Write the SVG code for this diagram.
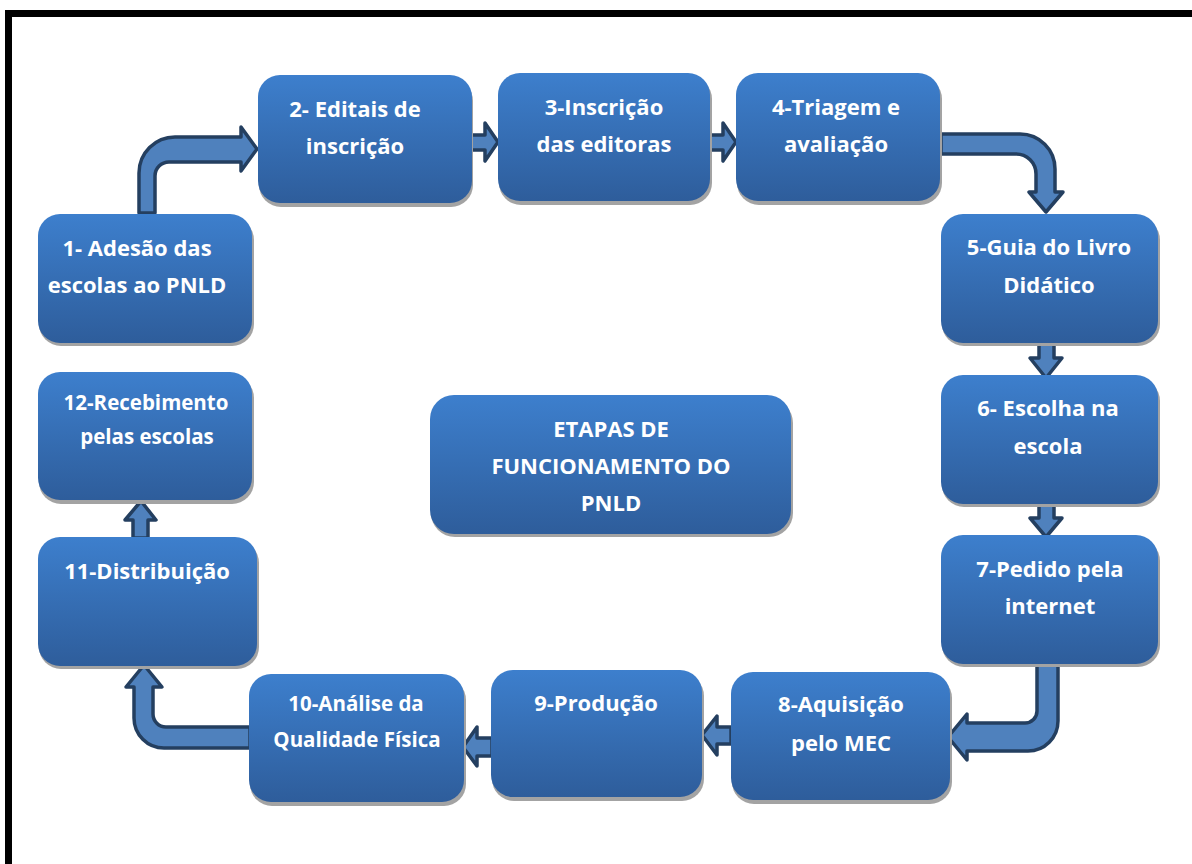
<svg xmlns="http://www.w3.org/2000/svg" width="1192" height="864" viewBox="0 0 1192 864">
<defs>
<linearGradient id="g" x1="0" y1="0" x2="0" y2="1">
<stop offset="0" stop-color="#3d7fcd"/>
<stop offset="1" stop-color="#2e5d9b"/>
</linearGradient>
<style>
.box{fill:url(#g);}
.sh{fill:#a3a3a3;}
.t{font-family:"Open Sans","Liberation Sans",sans-serif;font-weight:bold;font-size:22px;fill:#ffffff;text-anchor:middle;}
.s{font-size:20.5px;}
.ar{fill:#4f81bd;stroke:#243f60;stroke-width:3.5;stroke-linejoin:round;}
</style>
</defs>
<rect width="1192" height="864" fill="#ffffff"/>
<rect x="8.5" y="13.5" width="1200" height="900" fill="none" stroke="#000000" stroke-width="7"/>

<g id="connectors">
<path class="ar" d="M139,213 L139,173 A36,36 0 0 1 175,137 L241,137 L241,127 L257,149 L241,171 L241,162 L169,162 A14,14 0 0 0 155,176 L155,213 Z"/>
<path class="ar" d="M471,135 L485,135 L485,123 L498,142 L485,161 L485,150 L471,150 Z"/>
<path class="ar" d="M710,135 L723,135 L723,123 L736,142 L723,161 L723,150 L710,150 Z"/>
<path class="ar" d="M941,134 L1020,134 A35,35 0 0 1 1055,169 L1055,192 L1063,192 L1046,212 L1029,192 L1036,192 L1036,174 A20,20 0 0 0 1016,154 L941,154 Z"/>
<path class="ar" d="M1039,343 L1054,343 L1054,358 L1062,358 L1046,378 L1030,358 L1039,358 Z"/>
<path class="ar" d="M1039,504 L1054,504 L1054,518 L1062,518 L1046,537 L1030,518 L1039,518 Z"/>
<path class="ar" d="M1037,664 L1058,664 L1058,721 A30,30 0 0 1 1028,751 L967,751 L967,760 L948,737 L967,714 L967,723 L1025,723 A12,12 0 0 0 1037,711 Z"/>
<path class="ar" d="M731,727 L731,744 L717,744 L717,755 L702,735 L717,716 L717,727 Z"/>
<path class="ar" d="M492,738 L492,756 L477,756 L477,766 L463,747 L477,727 L477,738 Z"/>
<path class="ar" d="M250,727 L250,748 L164,748 A30,30 0 0 1 134,718 L134,687 L126,687 L144,665 L162,687 L153,687 L153,714 A13,13 0 0 0 166,727 Z"/>
<path class="ar" d="M133,538 L133,520 L125,520 L141,501 L156,520 L148,520 L148,538 Z"/>
</g>

<g id="n1">
<rect class="sh" x="39" y="218" width="215" height="128" rx="22"/>
<rect class="box" x="38" y="214" width="214" height="129" rx="22"/>
<text class="t" x="137" y="256">1- Adesão das</text>
<text class="t" x="137" y="293">escolas ao PNLD</text>
</g>
<g id="n2">
<rect class="sh" x="259" y="79" width="214" height="128" rx="22"/>
<rect class="box" x="258" y="75" width="214" height="128" rx="22"/>
<text class="t" x="355" y="117">2- Editais de</text>
<text class="t" x="355" y="154">inscrição</text>
</g>
<g id="n3">
<rect class="sh" x="499" y="77" width="213" height="128" rx="22"/>
<rect class="box" x="498" y="73" width="212" height="128" rx="22"/>
<text class="t" x="604" y="115">3-Inscrição</text>
<text class="t" x="604" y="152">das editoras</text>
</g>
<g id="n4">
<rect class="sh" x="737" y="77" width="205" height="128" rx="22"/>
<rect class="box" x="736" y="73" width="204" height="128" rx="22"/>
<text class="t" x="836" y="115">4-Triagem e</text>
<text class="t" x="836" y="152">avaliação</text>
</g>
<g id="n5">
<rect class="sh" x="942" y="218" width="218" height="128" rx="22"/>
<rect class="box" x="941" y="214" width="217" height="129" rx="22"/>
<text class="t" x="1049" y="255">5-Guia do Livro</text>
<text class="t" x="1049" y="293">Didático</text>
</g>
<g id="n6">
<rect class="sh" x="942" y="379" width="218" height="128" rx="22"/>
<rect class="box" x="941" y="375" width="217" height="129" rx="22"/>
<text class="t" x="1048" y="416">6- Escolha na</text>
<text class="t" x="1048" y="454">escola</text>
</g>
<g id="n7">
<rect class="sh" x="942" y="539" width="218" height="128" rx="22"/>
<rect class="box" x="941" y="535" width="217" height="129" rx="22"/>
<text class="t" x="1050" y="577">7-Pedido pela</text>
<text class="t" x="1050" y="614">internet</text>
</g>
<g id="n8">
<rect class="sh" x="732" y="676" width="220" height="128" rx="22"/>
<rect class="box" x="731" y="672" width="219" height="128" rx="22"/>
<text class="t" x="841" y="712">8-Aquisição</text>
<text class="t" x="841" y="751">pelo MEC</text>
</g>
<g id="n9">
<rect class="sh" x="492" y="674" width="212" height="127" rx="22"/>
<rect class="box" x="491" y="670" width="211" height="127" rx="22"/>
<text class="t" x="596" y="711">9-Produção</text>
</g>
<g id="n10">
<rect class="sh" x="250" y="678" width="216" height="128" rx="22"/>
<rect class="box" x="249" y="674" width="215" height="128" rx="22"/>
<text class="t s" x="356" y="711">10-Análise da</text>
<text class="t s" x="357" y="747">Qualidade Física</text>
</g>
<g id="n11">
<rect class="sh" x="39" y="541" width="220" height="128" rx="22"/>
<rect class="box" x="38" y="537" width="219" height="129" rx="22"/>
<text class="t" x="147" y="579">11-Distribuição</text>
</g>
<g id="n12">
<rect class="sh" x="39" y="376" width="215" height="128" rx="22"/>
<rect class="box" x="38" y="372" width="214" height="128" rx="22"/>
<text class="t s" x="146" y="410">12-Recebimento</text>
<text class="t s" x="147" y="444">pelas escolas</text>
</g>
<g id="center">
<rect class="sh" x="431" y="399" width="362" height="138" rx="24"/>
<rect class="box" x="430" y="395" width="361" height="139" rx="24"/>
<text class="t" x="611" y="437">ETAPAS DE</text>
<text class="t" x="611" y="474">FUNCIONAMENTO DO</text>
<text class="t" x="611" y="511">PNLD</text>
</g>
</svg>
